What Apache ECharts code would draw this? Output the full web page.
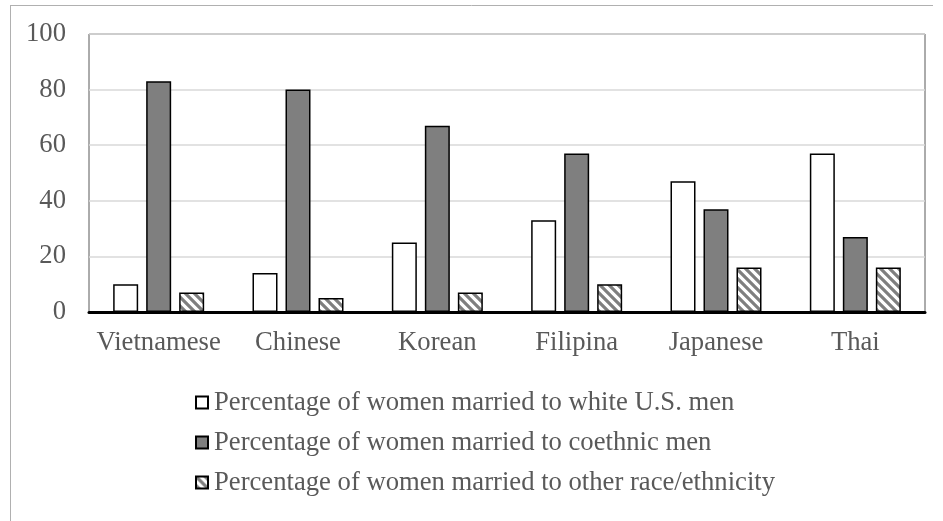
<!DOCTYPE html>
<html>
<head>
<meta charset="utf-8">
<script src="https://cdn.jsdelivr.net/npm/echarts@6/dist/echarts.min.js"></script>
<style>html,body{margin:0;padding:0;background:#fff;}#c{width:943px;height:521px;}</style>
</head>
<body>
<div id="c"></div>
<script>
const categories = ['Vietnamese', 'Chinese', 'Korean', 'Filipina', 'Japanese', 'Thai'];
const seriesNames = [
  'Percentage of women married to white U.S. men',
  'Percentage of women married to coethnic men',
  'Percentage of women married to other race/ethnicity'
];
const whiteMen = [10, 14, 25, 33, 47, 57];
const coethnicMen = [83, 80, 67, 57, 37, 27];
const otherRace = [7, 5, 7, 10, 16, 16];
const yTicks = [0, 20, 40, 60, 80, 100];

// hatch pattern
const pc = document.createElement('canvas');
pc.width = 9; pc.height = 9;
const ctx = pc.getContext('2d');
ctx.fillStyle = '#ffffff';
ctx.fillRect(0, 0, 9, 9);
ctx.strokeStyle = '#7f7f7f';
ctx.lineWidth = 3.2;
ctx.beginPath();
ctx.moveTo(-3, -3); ctx.lineTo(12, 12);
ctx.moveTo(-12, -3); ctx.lineTo(3, 12);
ctx.moveTo(6, -3); ctx.lineTo(21, 12);
ctx.stroke();

const chart = echarts.init(document.getElementById('c'), null, {renderer: 'canvas'});
const font = '"Liberation Serif", "Times New Roman", serif';
const fs = 26.67;
const barStyle = (color) => ({color: color, borderColor: '#000', borderWidth: 1.5});

chart.setOption({
  animation: false,
  backgroundColor: '#fff',
  graphic: [
    {type: 'line', shape: {x1: 10, y1: 5.5, x2: 933, y2: 5.5}, style: {stroke: '#b0b0b0', lineWidth: 1}},
    {type: 'line', shape: {x1: 10.5, y1: 5, x2: 10.5, y2: 521}, style: {stroke: '#b0b0b0', lineWidth: 1}}
  ],
  grid: {left: 89, right: 18, top: 34, bottom: 209, show: true, borderColor: '#595959', borderWidth: 1},
  legend: {
    orient: 'vertical', left: 190, top: 384,
    icon: 'rect',
    itemWidth: 12, itemHeight: 12, itemGap: 13,
    textStyle: {fontFamily: font, fontSize: fs, color: '#595959', padding: [0, 0, 0, 1]},
    data: seriesNames
  },
  xAxis: {
    type: 'category', data: categories,
    axisLine: {lineStyle: {color: '#000', width: 3}},
    axisTick: {show: false},
    axisLabel: {fontFamily: font, fontSize: fs, color: '#595959', margin: 17, interval: 0}
  },
  yAxis: {
    type: 'value', min: 0, max: 100, interval: 20,
    axisLine: {show: false}, axisTick: {show: false},
    axisLabel: {fontFamily: font, fontSize: fs, color: '#595959', margin: 23,
      formatter: (v) => yTicks.includes(v) ? String(v) : ''},
    splitLine: {lineStyle: {color: '#d9d9d9', width: 1.5}}
  },
  series: [
    {name: seriesNames[0], type: 'bar', data: whiteMen, barWidth: 25, barGap: '32%', itemStyle: barStyle('#ffffff')},
    {name: seriesNames[1], type: 'bar', data: coethnicMen, barWidth: 25, barGap: '32%', itemStyle: barStyle('#7f7f7f')},
    {name: seriesNames[2], type: 'bar', data: otherRace, barWidth: 25, barGap: '32%', itemStyle: barStyle({image: pc, repeat: 'repeat'})}
  ]
});
</script>
</body>
</html>
